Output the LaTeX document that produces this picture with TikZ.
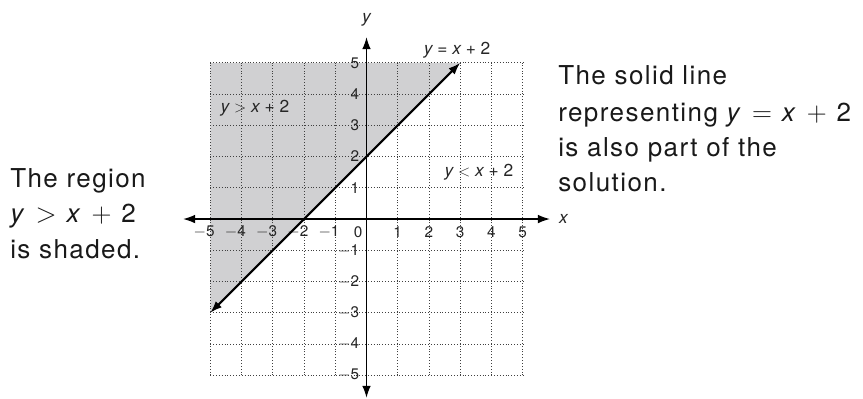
\documentclass[tikz,border=0pt]{standalone}
\usepackage{fontspec}
\setmainfont{TeX Gyre Heros}
\newfontfamily\bodyfont[LetterSpace=5.5]{TeX Gyre Heros}
\usetikzlibrary{arrows.meta}
\definecolor{shadegray}{RGB}{208,208,210}
\newcommand{\wsp}{\hspace{0.38em}}
\begin{document}
\begin{tikzpicture}[x=23.4375pt,y=23.4375pt,
  gridline/.style={draw=black!75, line width=0.65pt, dash pattern=on 0.65pt off 1.5pt},
  axisline/.style={line width=1pt, {Latex[length=9pt,width=6.5pt]}-{Latex[length=9pt,width=6.5pt]}},
  graphline/.style={line width=1.6pt, {Latex[length=9pt,width=6.5pt]}-{Latex[length=9pt,width=6.5pt]}},
  ticklab/.style={font=\fontsize{11.5}{13}\selectfont, inner sep=0pt, text=black!85},
  eqlab/.style={font=\fontsize{13}{15}\selectfont, inner sep=0pt, text=black!85},
  bodytext/.style={font=\bodyfont\fontsize{19.5}{26}\selectfont, inner sep=0pt, anchor=base west, text=black!90}
]
\useasboundingbox (-11.73,-5.73) rectangle (15.89,7.01);
% shaded region
\fill[shadegray] (-5,-3) -- (3,5) -- (-5,5) -- cycle;
% grid
\foreach \i in {-5,...,5} {
  \draw[gridline] (\i,-5) -- (\i,5);
  \draw[gridline] (-5,\i) -- (5,\i);
}
% axes
\coordinate (xl) at (-5.87,0);
\coordinate (xr) at (5.87,0);
\coordinate (yb) at (0,-5.72);
\coordinate (yt) at (0,5.82);
\draw[axisline] (xl) -- (xr);
\draw[axisline] (yb) -- (yt);
\node[eqlab] (xlab) at (6.3,0) {\itshape x};
\node[eqlab] (ylab) at (0,6.37) {\itshape y};
% tick labels
\foreach \i in {1,...,5} {
  \node[ticklab] (xp\i) at (\i,-0.42) {\i};
  \node[ticklab] (xn\i) at (-\i,-0.42) {\llap{$-$}\i};
  \node[ticklab] (yp\i) at (-0.37,\i) {\i};
  \node[ticklab] (yn\i) at (-0.37,-\i) {\llap{$-$}\i};
}
\node[ticklab] (zero) at (-0.27,-0.42) {0};
% line y = x + 2
\coordinate (la) at (-5,-3);
\coordinate (lb) at (3,5);
\draw[graphline] (la) -- (lb);
% labels
\node[eqlab] (eq) at (2.9,5.4) {\itshape y\upshape\ = \itshape x\upshape\ + 2};
\node[eqlab] (gt) at (-3.57,3.55) {\itshape y\upshape\ $>$ \itshape x\upshape\ + 2};
\node[eqlab] (lt) at (3.6,1.5) {\itshape y\upshape\ $<$ \itshape x\upshape\ + 2};
% left text
\node[bodytext] (l1) at (-11.41,1.02) {The region};
\node[bodytext] (l2) at (-11.41,-0.1) {\textit{y}\wsp$>$\wsp\textit{x}\wsp$+$\wsp2};
\node[bodytext] (l3) at (-11.41,-1.25) {is shaded.};
% right text
\node[bodytext] (r1) at (6.13,4.29) {The solid line};
\node[bodytext] (r2) at (6.13,3.11) {representing \textit{y}\wsp$=$\wsp\textit{x}\wsp$+$\wsp2};
\node[bodytext] (r3) at (6.13,1.99) {is also part of the};
\node[bodytext] (r4) at (6.13,0.87) {solution.};
\end{tikzpicture}
\end{document}
